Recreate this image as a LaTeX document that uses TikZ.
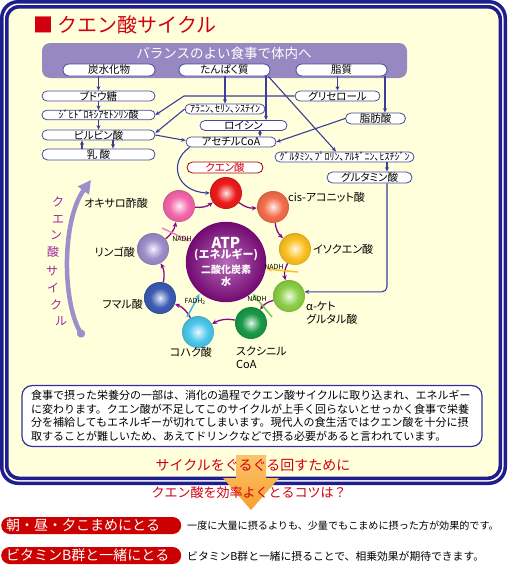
\documentclass[tikz,border=0pt]{standalone}
\usepackage{fontspec}
\setmainfont{Noto Sans CJK JP}
\newfontfamily\jpp{Noto Sans CJK JP}[RawFeature=+palt]
\usetikzlibrary{arrows.meta,calc}
\definecolor{navy}{HTML}{1E1E8C}
\definecolor{cream}{HTML}{FFFFDC}
\definecolor{lineblue}{HTML}{3C3C9C}
\definecolor{pillb}{HTML}{4848A0}
\definecolor{banner}{HTML}{9888C2}
\definecolor{tred}{HTML}{D2000F}
\definecolor{pred}{HTML}{CC0000}
\definecolor{cycp}{HTML}{860A86}
\definecolor{lav}{HTML}{9C8FCB}
\definecolor{vtxt}{HTML}{A0289F}
\definecolor{boxb}{HTML}{30309C}
\definecolor{cCit}{HTML}{EC1C1C}
\definecolor{cCis}{HTML}{F46E4C}
\definecolor{cIso}{HTML}{FCC222}
\definecolor{cAkg}{HTML}{8CD048}
\definecolor{cSca}{HTML}{189A48}
\definecolor{cSuc}{HTML}{4CC8EC}
\definecolor{cFum}{HTML}{3C5CB4}
\definecolor{cMal}{HTML}{9E8ECC}
\definecolor{cOaa}{HTML}{F468AC}
\definecolor{nPink}{HTML}{F080C0}
\definecolor{nYel}{HTML}{F8C030}
\definecolor{nGrn}{HTML}{78C860}
\definecolor{nCyan}{HTML}{40B8E0}
\definecolor{orA}{HTML}{FBC46C}
\definecolor{orB}{HTML}{F8A02C}
\colorlet{sphc}{red}
\pgfdeclareradialshading[sphc]{sphere}{\pgfpoint{0bp}{0bp}}{color(0bp)=(white);color(2bp)=(sphc!25!white);color(15bp)=(sphc);color(23bp)=(sphc!92!black);color(25bp)=(sphc!85!black);color(50bp)=(sphc!85!black)}
\tikzset{
  conn/.style={draw=lineblue, line width=1.1pt, -{Stealth[length=4.5pt,width=4pt]}},
  pill/.style={draw=pillb, fill=white, line width=0.8pt, rounded corners=5pt, minimum height=10pt, inner sep=0pt, font=\jpp\fontsize{10.5}{11}\selectfont},
  cyc/.style={draw=cycp, line width=1.3pt, -{Stealth[length=5pt,width=4.5pt]}},
  sph/.style={circle, minimum size=32pt, inner sep=0pt, /utils/exec={\colorlet{sphc}{#1}}, shade, shading=sphere},
  lbl/.style={inner sep=0pt, font=\jpp\fontsize{11}{13}\selectfont},
  nadh/.style={inner sep=0pt, font=\fontsize{7}{8}\selectfont},
  narr/.style={line width=1.5pt, -{Stealth[length=5pt,width=4.5pt]}, shorten >=1pt},
  vtext/.style={inner sep=0pt, text=vtxt, font=\fontsize{12}{12}\selectfont},
  redpill/.style={fill=pred, text=white, rounded corners=8.5pt, minimum height=17pt, inner xsep=5pt, inner ysep=0pt, text width=170pt, align=left, font=\fontsize{14}{15}\selectfont},
}
\begin{document}
\begin{tikzpicture}[x=1pt,y=-1pt]
\useasboundingbox (0,0) rectangle (507,565);
\fill[white] (0,0) rectangle (507,565);
% frame
\fill[navy, rounded corners=18pt] (0,0) rectangle (507,485);
\fill[white, rounded corners=15pt] (3.5,3.5) rectangle (503.5,481.5);
\fill[navy, rounded corners=14pt] (5,5) rectangle (502,480);
\fill[cream, rounded corners=11pt] (8.5,8.5) rectangle (498.5,476.5);
% title
\node[anchor=west, text=tred, inner sep=0, font=\fontsize{20}{22}\selectfont] (title) at (33,25) {■ クエン酸サイクル};
% banner
\fill[banner, rounded corners=8pt] (42,43) rectangle (407,78);
\node[text=white, inner sep=0, font=\fontsize{13.5}{15}\selectfont] (bantext) at (224,53) {バランスのよい食事で体内へ};
\node[pill, minimum width=92pt, minimum height=12pt, rounded corners=6pt] (carb) at (109,70) {炭水化物};
\node[pill, minimum width=91pt, minimum height=12pt, rounded corners=6pt] (prot) at (224.5,70) {たんぱく質};
\node[pill, minimum width=91pt, minimum height=12pt, rounded corners=6pt] (lipid) at (341.5,70) {脂質};
% left column
\node[pill, minimum width=113pt] (glc) at (98.5,96) {ブドウ糖};
\node[pill, minimum width=113pt, minimum height=9pt, rounded corners=4.5pt] (dhap) at (98.5,115) {\fontsize{10}{10}\selectfont ｼﾞﾋﾄﾞﾛｷｼｱｾﾄﾝﾘﾝ酸};
\node[pill, minimum width=113pt] (pyr) at (98.5,135) {ピルビン酸};
\node[pill, minimum width=113pt, minimum height=11pt, rounded corners=5.5pt] (lac) at (98.5,154.5) {乳 酸};
% middle
\node[pill, minimum width=80pt] (ala) at (225,109) {\fontsize{10}{10}\selectfont ｱﾗﾆﾝ､ｾﾘﾝ､ｼｽﾃｲﾝ};
\node[pill, minimum width=87pt] (leu) at (243.5,125.5) {ロイシン};
\node[pill, minimum width=90pt] (acoa) at (231,142) {アセチルCoA};
\node[pill, minimum width=76pt, minimum height=11pt, rounded corners=5.5pt, draw=tred!80!black, text=tred] (citp) at (225,167.5) {クエン酸};
% right
\node[pill, minimum width=85pt] (gly) at (337.5,96) {グリセロール};
\node[pill, minimum width=60pt, minimum height=11pt, rounded corners=5.5pt] (fa) at (375.5,118.5) {脂肪酸};
\node[pill, minimum width=139pt] (glus) at (344.5,157) {\fontsize{10}{10}\selectfont ｸﾞﾙﾀﾐﾝ､ﾌﾟﾛﾘﾝ､ｱﾙｷﾞﾆﾝ､ﾋｽﾁｼﾞﾝ};
\node[pill, minimum width=85pt, minimum height=11pt, rounded corners=5.5pt] (glu) at (369.5,177.5) {グルタミン酸};
% cycle spheres
\node[sph=cCit] (cit) at (226,193) {};
\node[sph=cCis] (cis) at (273,207) {};
\node[sph=cIso] (iso) at (295,249) {};
\node[sph=cAkg] (akg) at (289,296) {};
\node[sph=cSca] (sca) at (251,323) {};
\node[sph=cSuc] (suc) at (198,332) {};
\node[sph=cFum] (fum) at (160,298) {};
\node[sph=cMal] (mal) at (153,249) {};
\node[sph=cOaa] (oaa) at (179,206) {};
\node[circle, minimum size=67pt, inner sep=0pt, inner color=cycp!60!white, outer color=cycp!85!black, text=white, align=center, font=\bfseries\fontsize{10}{12}\selectfont] (atp) at (226,262) {{\fontsize{15}{15}\selectfont ATP}\\[-2pt]{\fontsize{11}{12}\selectfont (エネルギー)}\\[3pt]二酸化炭素\\水};
% labels
\node[lbl, anchor=east] (loaa) at (148,203) {オキサロ酢酸};
\node[lbl, anchor=east] (lmal) at (135,252) {リンゴ酸};
\node[lbl, anchor=east] (lfum) at (143,304) {フマル酸};
\node[lbl] (lsuc) at (191,352) {コハク酸};
\node[lbl, anchor=north west, align=left] (lsca) at (236,346) {スクシニル\\CoA};
\node[lbl, anchor=north west, align=left] (lakg) at (306,302) {α-ケト\\グルタル酸};
\node[lbl, anchor=west] (liso) at (313,249) {イソクエン酸};
\node[lbl, anchor=west] (lcis) at (288,197) {cis-アコニット酸};
% connectors top
\draw[conn] (carb.south -| glc.north) -- (glc.north);
\draw[conn] (glc.south) -- (dhap.north);
\draw[conn] (dhap.south) -- (pyr.north);
\draw[conn] ([xshift=14.5pt]pyr.south) -- ([xshift=14.5pt]lac.north);
\draw[conn] ([xshift=-16.5pt]lac.north) -- ([xshift=-16.5pt]pyr.south);
\draw[conn] (prot.south -| ala.north) -- (ala.north);
\draw[conn] ([xshift=41.5pt]prot.south) -- ([xshift=41.5pt]prot.south |- leu.north);
\draw[conn] ([xshift=-2pt]prot.south east) -- ([xshift=-8.5pt]glus.north);
\coordinate (gbend) at (184,96);
\draw[conn] (gly.west) -- (gbend) -- (dhap.east);
\draw[conn] (ala.west) -- ([yshift=2pt]pyr.east);
\draw[conn] (pyr.east) -- ([yshift=1.5pt]acoa.west);
\draw[conn] ([xshift=16.5pt]leu.south) -- ([xshift=16.5pt]leu.south |- acoa.north);
\draw[conn] (fa.west) -- (acoa.east);
\draw[conn] (lipid.south -| gly.north) -- (gly.north);
\draw[conn] ([xshift=43.5pt]lipid.south) -- ([xshift=43.5pt]lipid.south |- fa.north);
\draw[conn] ([xshift=17.5pt]glu.north |- glus.south) -- ([xshift=17.5pt]glu.north);
\draw[conn, rounded corners=5pt] ([xshift=17.5pt]glu.south) |- (akg.15);
\draw[conn] ([xshift=4pt]acoa.south west) .. controls (168,162) and (176,192) .. (cit.west);
% cycle arrows
\foreach \a/\b in {cit/cis, cis/iso, iso/akg, akg/sca, sca/suc, suc/fum, fum/mal, mal/oaa, oaa/cit}
  \draw[cyc] (\a) to[bend right=20] (\b);
% NADH arrows
\coordinate (rp) at (162,228);
\coordinate (ry) at (298,272);
\coordinate (rg) at (272,317);
\coordinate (rc) at (187,317);
\draw[narr, draw=nPink] (rp) -- (atp.150);
\draw[narr, draw=nYel] (ry) -- (atp.-10);
\draw[narr, draw=nGrn] (rg) -- (atp.-50);
\draw[narr, draw=nCyan] (rc) -- (atp.-130);
\node[nadh] (n1) at (182,239) {NADH};
\node[nadh] (n2) at (274,267) {NADH};
\node[nadh] (n3) at (257,299) {NADH};
\node[nadh] (n4) at (195,301) {FADH\raisebox{-1pt}{\fontsize{5}{5}\selectfont 2}};
% left cycle arrow
\coordinate (lb) at (83,337);
\coordinate (lt) at (91,180);
\draw[line width=4.5pt, draw=lav, {Circle[length=8pt]}-{Triangle[length=13pt,width=13pt]}] (lb) .. controls (62,300) and (62,220) .. (lt);
\foreach \ch/\px/\py in {ク/58/202, エ/58/219, ン/56/235, 酸/53/252, サ/52/271, イ/53/288, ク/56/305, ル/61/321}
  \node[vtext] (v\py) at (\px,\py) {\ch};
% text box
\node[draw=boxb, line width=1.2pt, fill=white, rounded corners=10pt, text width=442pt, inner xsep=9pt, inner ysep=5pt, align=left, font=\fontsize{11}{13.5}\selectfont] (box) at (252,416) {食事で摂った栄養分の一部は、消化の過程でクエン酸サイクルに取り込まれ、エネルギー\\に変わります。クエン酸が不足してこのサイクルが上手く回らないとせっかく食事で栄養\\分を補給してもエネルギーが切れてしまいます。現代人の食生活ではクエン酸を十分に摂\\取することが難しいため、あえてドリンクなどで摂る必要があると言われています。};
% orange arrow
\shade[top color=orA, bottom color=orB] (236,455) -- (266,455) -- (266,478) -- (279,478) -- (251,510) -- (223,478) -- (236,478) -- cycle;
\node[text=tred, inner sep=0, font=\fontsize{14}{15}\selectfont] (t1) at (253,465) {サイクルをぐるぐる回すために};
\node[text=tred, inner sep=0, font=\fontsize{13}{14}\selectfont] (t2) at (249,493) {クエン酸を効率よくとるコツは？};
% tips
\node[redpill, anchor=west] (tip1) at (1,525.5) {朝・昼・夕こまめにとる};
\node[redpill, anchor=west] (tip2) at (1,555.5) {ビタミンB群と一緒にとる};
\node[anchor=west, inner sep=0, font=\fontsize{10.1}{12}\selectfont] (d1) at (187,525.5) {一度に大量に摂るよりも、少量でもこまめに摂った方が効果的です。};
\node[anchor=west, inner sep=0, font=\fontsize{10.8}{12}\selectfont] (d2) at (187,556) {ビタミンB群と一緒に摂ることで、相乗効果が期待できます。};
\end{tikzpicture}
\end{document}
